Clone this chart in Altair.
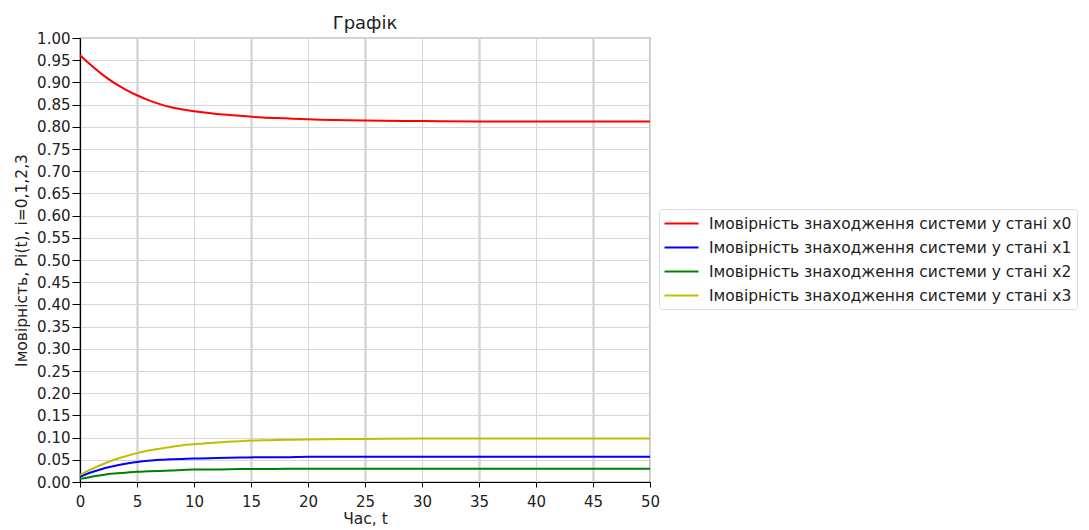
import altair as alt
import pandas as pd

t = [0, 1, 2, 3, 4, 5, 6, 7, 8, 9, 10, 12, 14, 16, 18, 20, 25, 30, 35, 40, 45, 50]
p0 = [0.961, 0.938, 0.917, 0.899, 0.884, 0.871, 0.860, 0.851, 0.844, 0.839, 0.835,
      0.829, 0.825, 0.821, 0.819, 0.817, 0.814, 0.813, 0.812, 0.812, 0.812, 0.812]
p1 = [0.012, 0.022, 0.030, 0.036, 0.041, 0.045, 0.048, 0.050, 0.051, 0.052, 0.053,
      0.054, 0.055, 0.056, 0.056, 0.057, 0.057, 0.057, 0.057, 0.057, 0.057, 0.057]
p2 = [0.007, 0.012, 0.016, 0.019, 0.021, 0.023, 0.024, 0.025, 0.026, 0.027, 0.028,
      0.028, 0.029, 0.029, 0.030, 0.030, 0.030, 0.030, 0.030, 0.030, 0.030, 0.030]
p3 = [0.016, 0.029, 0.040, 0.050, 0.058, 0.065, 0.071, 0.075, 0.079, 0.083, 0.085,
      0.089, 0.092, 0.094, 0.095, 0.096, 0.097, 0.098, 0.098, 0.098, 0.098, 0.098]

names = [
    "Імовірність знаходження системи у стані x0",
    "Імовірність знаходження системи у стані x1",
    "Імовірність знаходження системи у стані x2",
    "Імовірність знаходження системи у стані x3",
]
colors = ["#ff0000", "#0000ff", "#008000", "#bfbf00"]
x_ticks = [0, 5, 10, 15, 20, 25, 30, 35, 40, 45, 50]
y_ticks = [round(i * 0.05, 2) for i in range(21)]

rows = []
for name, series in zip(names, [p0, p1, p2, p3]):
    for ti, v in zip(t, series):
        rows.append({"t": ti, "p": v, "s": name})
df = pd.DataFrame(rows)

FONT = "DejaVu Sans"

chart = alt.Chart(df).mark_line(strokeWidth=2, interpolate="monotone").encode(
    x=alt.X("t:Q", scale=alt.Scale(domain=[0, 50], nice=False),
            axis=alt.Axis(values=x_ticks, title="Час, t", format="d", tickSize=5, labelPadding=7,
                          titlePadding=2,
                          gridWidth={"condition": {"test": "datum.value % 10 == 5", "value": 2.5}, "value": 1})),
    y=alt.Y("p:Q", scale=alt.Scale(domain=[0, 1], nice=False),
            axis=alt.Axis(values=y_ticks, title="Імовірність, Pi(t), i=0,1,2,3", format=".2f",
                          tickSize=8, labelPadding=2, titlePadding=7)),
    color=alt.Color("s:N", scale=alt.Scale(domain=names, range=colors),
                    legend=alt.Legend(title=None, orient="none", legendX=579, legendY=171,
                                      symbolType="M-2,0H2", symbolSize=289, symbolStrokeWidth=2,
                                      labelFontSize=15.5, labelFont=FONT, labelColor="#222",
                                      rowPadding=6, padding=5, strokeColor="#dddddd",
                                      fillColor="white", cornerRadius=3, labelLimit=600,
                                      symbolOffset=8, labelOffset=18)),
).properties(
    width=570, height=444,
    title=alt.TitleParams("Графік", fontSize=18, font=FONT, fontWeight="normal", color="#222", offset=-2),
    autosize=alt.AutoSizeParams(type="none"),
    padding={"left": 72, "top": 30, "right": 431, "bottom": 48},
).configure_view(
    stroke="#444", strokeWidth=1.2
).configure_axis(
    labelFont=FONT, labelFontSize=15, labelColor="#222", labelFlush=False,
    titleFont=FONT, titleFontSize=15.5, titleFontWeight="normal", titleColor="#222",
    domainColor="#000", domainWidth=1.2, tickColor="#000",
    gridColor="#d6d6d6",
)

chart.save("out.html", embed_options={"renderer": "svg", "actions": False})
